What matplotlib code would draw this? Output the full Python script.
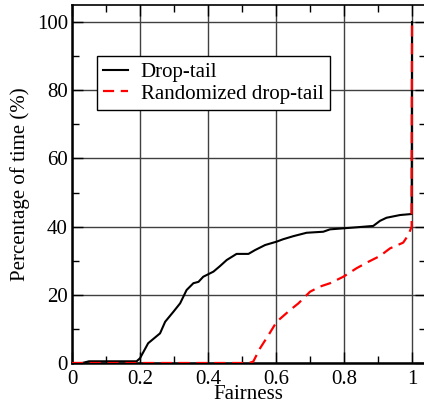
import matplotlib
matplotlib.use("Agg")
import matplotlib.pyplot as plt
from matplotlib.ticker import MultipleLocator, FixedLocator

plt.rcParams['font.family'] = ['Liberation Serif', 'DejaVu Serif']

# Drop-tail CDF (fairness, percentage of time)
drop_x = [0.0, 0.03, 0.05, 0.19, 0.20, 0.224, 0.259, 0.274, 0.298, 0.318, 0.337,
          0.357, 0.372, 0.386, 0.416, 0.435, 0.455, 0.484, 0.519, 0.538, 0.568,
          0.602, 0.621, 0.651, 0.690, 0.739, 0.759, 0.798, 0.837, 0.886, 0.906,
          0.925, 0.965, 0.999, 1.0]
drop_y = [0.0, 0.0, 0.5, 0.5, 1.4, 5.8, 8.7, 12.1, 15.0, 17.5, 21.4,
          23.4, 23.8, 25.3, 26.8, 28.4, 30.2, 32.0, 32.0, 33.1, 34.6,
          35.6, 36.3, 37.2, 38.2, 38.5, 39.2, 39.5, 39.8, 40.2, 41.7,
          42.6, 43.4, 43.7, 100.0]

# Randomized drop-tail CDF
rand_x = [0.0, 0.52, 0.533, 0.553, 0.578, 0.602, 0.641, 0.666, 0.700, 0.729,
          0.759, 0.798, 0.837, 0.872, 0.906, 0.935, 0.974, 0.989, 0.999, 1.0]
rand_y = [0.0, 0.0, 0.4, 4.3, 8.2, 12.1, 15.5, 17.5, 20.9, 22.4,
          23.4, 25.3, 27.8, 29.7, 31.4, 33.6, 35.3, 37.5, 40.0, 100.0]

x_ticks = [0, 0.2, 0.4, 0.6, 0.8, 1.0]
x_labels = ['0', '0.2', '0.4', '0.6', '0.8', '1']
y_ticks = [0, 20, 40, 60, 80, 100]

fig = plt.figure(figsize=(4.24, 4.03), dpi=100)
ax = fig.add_axes([72 / 424, 40 / 403, 1.04 * 340 / 424, 358 / 403])

ax.plot(drop_x, drop_y, color='black', lw=1.5, label='Drop-tail', zorder=3)
ax.plot(rand_x, rand_y, color='red', lw=1.6, dashes=(5, 3),
        label='Randomized drop-tail', zorder=4)

ax.set_xlim(0, 1.04)
ax.set_ylim(0, 105)
ax.xaxis.set_major_locator(FixedLocator(x_ticks))
ax.set_xticklabels(x_labels)
ax.xaxis.set_minor_locator(MultipleLocator(0.1))
ax.yaxis.set_major_locator(FixedLocator(y_ticks))
ax.yaxis.set_minor_locator(MultipleLocator(10))

ax.tick_params(which='both', direction='in', top=True, right=True, labelsize=15)
ax.tick_params(which='major', length=8, width=1)
ax.tick_params(which='minor', length=5, width=1)
ax.tick_params(axis='x', pad=5)
ax.tick_params(axis='y', pad=3)

ax.grid(True, which='major', color='0.25', lw=1)
ax.set_axisbelow(True)

for side in ['left', 'bottom']:
    ax.spines[side].set_linewidth(1.8)
for side in ['top', 'right']:
    ax.spines[side].set_linewidth(1.2)

ax.set_xlabel('Fairness', fontsize=15, labelpad=-3)
ax.set_ylabel('Percentage of time (%)', fontsize=15, labelpad=5)

leg = ax.legend(loc='upper left', bbox_to_anchor=(0.07, 0.857), borderaxespad=0,
                fontsize=15, fancybox=False, framealpha=1, edgecolor='black',
                handlelength=1.2, handletextpad=0.6, borderpad=0.3,
                labelspacing=0.1)
leg.get_frame().set_linewidth(1.0)

fig.savefig('out.png', dpi=100)
